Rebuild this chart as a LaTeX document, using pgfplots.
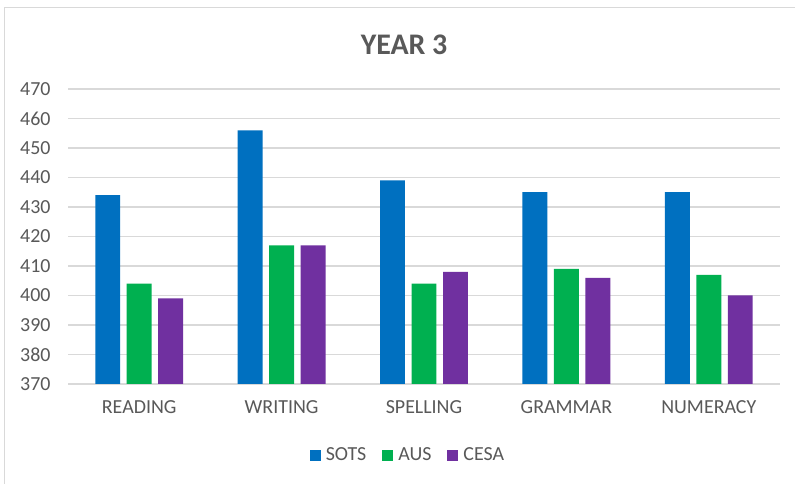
\documentclass[border=0pt]{standalone}
\usepackage{pgfplots}
\pgfplotsset{compat=1.18}
\usepackage{fontspec}
\setmainfont{Carlito}
\definecolor{cblue}{HTML}{0070C0}
\definecolor{cgreen}{HTML}{00B050}
\definecolor{cpurple}{HTML}{7030A0}
\definecolor{txt}{HTML}{595959}
\definecolor{gridc}{HTML}{D9D9D9}
\begin{document}
\begin{tikzpicture}
\useasboundingbox (0,0) rectangle (795bp,484bp);
\fill[white] (0,0) rectangle (795bp,484bp);
\draw[gridc, line width=1.5bp] (4.5bp,0) -- (4.5bp,476.5bp) -- (795bp,476.5bp);
\begin{axis}[
  at={(68bp,100bp)}, anchor=south west,
  scale only axis, width=712bp, height=295bp,
  ybar, bar width=0.175,
  xmin=-0.5, xmax=4.5, ymin=370, ymax=470,
  ytick={370,380,...,470},
  xtick={0,1,2,3,4},
  xticklabels={READING,WRITING,SPELLING,GRAMMAR,NUMERACY},
  major tick length=0,
  axis line style={draw=none},
  ymajorgrids, xmajorgrids=false,
  grid style={color=gridc, line width=1.2bp},
  /pgf/number format/assume math mode=true,
  tick label style={font=\fontsize{20}{22}\selectfont, text=txt},
  xticklabel style={yshift=-13bp},
  yticklabel style={xshift=-14bp},
  title={\bfseries YEAR 3},
  title style={at={(0.472,1.13)}, anchor=center, font=\fontsize{30}{32}\selectfont, text=txt},
  legend columns=3,
  legend style={at={(0.4775,-0.2407)}, anchor=center, draw=none,
    font=\fontsize{20}{22}\selectfont, text=txt,
    /tikz/every odd column/.append style={column sep=3bp},
    /tikz/every even column/.append style={column sep=14bp},
    nodes={inner sep=2bp}},
  legend image code/.code={\fill[#1] (0bp,-5.5bp) rectangle (11bp,5.5bp);},
]
\addplot[fill=cblue, draw=none, bar shift=-0.221] coordinates {(0,434) (1,456) (2,439) (3,435) (4,435)};
\addplot[fill=cgreen, draw=none, bar shift=0] coordinates {(0,404) (1,417) (2,404) (3,409) (4,407)};
\addplot[fill=cpurple, draw=none, bar shift=0.221] coordinates {(0,399) (1,417) (2,408) (3,406) (4,400)};
\legend{SOTS,AUS,CESA}
\end{axis}
\end{tikzpicture}
\end{document}
